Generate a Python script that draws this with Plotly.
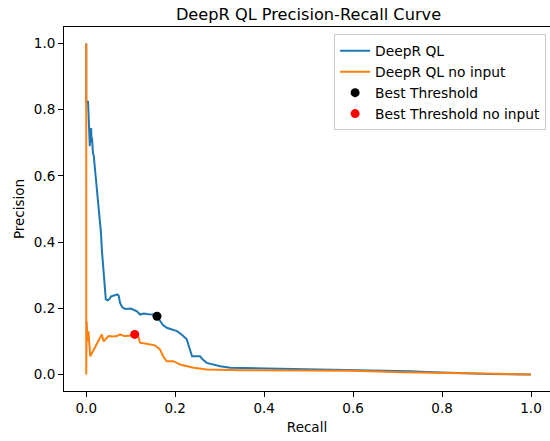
import plotly.graph_objects as go

# ---- data ----
blue_recall = [0.0, 0.0, 0.004, 0.005, 0.006, 0.007, 0.008, 0.009, 0.010, 0.011, 0.012, 0.013, 0.015,
               0.017, 0.019, 0.021, 0.023, 0.025, 0.026, 0.028, 0.031, 0.033, 0.035, 0.037, 0.039,
               0.041, 0.044, 0.048, 0.052, 0.056, 0.061, 0.066, 0.070, 0.073, 0.076, 0.080, 0.084,
               0.090, 0.100, 0.110, 0.114, 0.121, 0.130, 0.140, 0.151, 0.159, 0.166, 0.172, 0.181,
               0.193, 0.204, 0.215, 0.226, 0.232, 0.238, 0.256, 0.262, 0.271, 0.285, 0.301, 0.324,
               0.369, 0.45, 0.55, 0.65, 0.728, 0.78, 0.85, 0.908, 1.0]
blue_precision = [1.0, 0.82, 0.826, 0.78, 0.72, 0.745, 0.69, 0.73, 0.70, 0.745, 0.70, 0.715, 0.67,
                  0.66, 0.63, 0.60, 0.58, 0.55, 0.52, 0.50, 0.468, 0.43, 0.378, 0.34, 0.297,
                  0.26, 0.227, 0.224, 0.228, 0.236, 0.237, 0.240, 0.242, 0.238, 0.217, 0.205, 0.200,
                  0.198, 0.199, 0.193, 0.191, 0.181, 0.184, 0.182, 0.181, 0.176, 0.161, 0.150, 0.141,
                  0.135, 0.131, 0.120, 0.106, 0.080, 0.055, 0.055, 0.045, 0.035, 0.030, 0.025, 0.020,
                  0.019, 0.016, 0.013, 0.012, 0.010, 0.007, 0.004, 0.001, 0.0]

orange_recall = [0.0, 0.0, 0.001, 0.003, 0.005, 0.009, 0.015, 0.020, 0.024, 0.030, 0.035, 0.039,
                 0.045, 0.050, 0.060, 0.069, 0.076, 0.085, 0.091, 0.100, 0.109, 0.113, 0.118,
                 0.121, 0.135, 0.144, 0.154, 0.162, 0.166, 0.173, 0.181, 0.196, 0.211, 0.241,
                 0.271, 0.35, 0.5, 0.6, 0.712, 0.8, 0.9, 1.0]
orange_precision = [1.0, 0.0, 0.16, 0.10, 0.13, 0.055, 0.07, 0.085, 0.096, 0.11, 0.121, 0.10,
                    0.11, 0.116, 0.115, 0.116, 0.121, 0.116, 0.116, 0.118, 0.121, 0.12, 0.111,
                    0.096, 0.093, 0.091, 0.088, 0.080, 0.075, 0.055, 0.040, 0.040, 0.030, 0.020,
                    0.015, 0.013, 0.012, 0.011, 0.007, 0.005, 0.002, 0.0]

best_point = [0.159, 0.176]
best_point_no_input = [0.109, 0.121]

tick_vals = [0.0, 0.2, 0.4, 0.6, 0.8, 1.0]

FONT = "DejaVu Sans"

fig = go.Figure()
fig.add_trace(go.Scatter(x=blue_recall, y=blue_precision, mode="lines", name="DeepR QL",
                         line=dict(color="#1f77b4", width=2)))
fig.add_trace(go.Scatter(x=orange_recall, y=orange_precision, mode="lines", name="DeepR QL no input",
                         line=dict(color="#ff7f0e", width=2)))
fig.add_trace(go.Scatter(x=[best_point[0]], y=[best_point[1]], mode="markers", name="Best Threshold",
                         marker=dict(color="black", size=9)))
fig.add_trace(go.Scatter(x=[best_point_no_input[0]], y=[best_point_no_input[1]], mode="markers",
                         name="Best Threshold no input", marker=dict(color="red", size=9)))

axis_common = dict(showgrid=False, zeroline=False, showline=True, linecolor="black", linewidth=1,
                   ticks="outside", ticklen=5, tickwidth=1, tickcolor="black",
                   tickfont=dict(family=FONT, size=13.5, color="black"),
                   tickvals=tick_vals, tickformat=".1f")

fig.update_layout(
    width=550, height=441,
    margin=dict(l=64, r=0, t=27, b=50),
    paper_bgcolor="white", plot_bgcolor="white",
    title=dict(text="DeepR QL Precision-Recall Curve", x=(308.5) / 550, xanchor="center",
               y=1 - 14 / 441, yanchor="middle",
               font=dict(family=FONT, size=16.2, color="black")),
    xaxis=dict(range=[-0.05, 1.0427], mirror=True,
               title=dict(text="Recall", font=dict(family=FONT, size=13.5, color="black"), standoff=7),
               **axis_common),
    yaxis=dict(range=[-0.05, 1.05], mirror=False,
               title=dict(text="Precision", font=dict(family=FONT, size=13.5, color="black"), standoff=6),
               **axis_common),
    legend=dict(x=0.992, y=0.98, xanchor="right", yanchor="top",
                bgcolor="rgba(255,255,255,0.8)", bordercolor="#cccccc", borderwidth=1,
                font=dict(family=FONT, size=13.8, color="black"), tracegroupgap=0,
                itemwidth=30),
    showlegend=True,
)

fig.write_html("out.html")
